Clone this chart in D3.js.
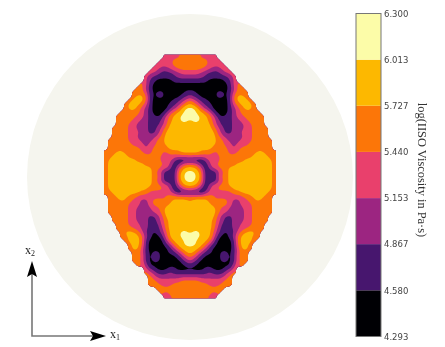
<!DOCTYPE html>
<html>
<head>
<meta charset="utf-8">
<script src="https://cdn.jsdelivr.net/npm/d3@7"></script>
<style>
html, body { margin: 0; padding: 0; background: #fff; }
svg { display: block; filter: blur(0.35px); }
</style>
</head>
<body>
<svg id="svg" width="445" height="347"></svg>
<script>
// colour band edges
var levels = [4.293, 4.58, 4.867, 5.153, 5.44, 5.727, 6.013, 6.3];
var bandColors = ["#000004", "#47166e", "#9c2581", "#e9406c", "#fc7608", "#fdb800", "#fcfca8"];

// band index per cell, right half of the field only (left half is mirrored)
// first string = top row, centre row in the middle. string length = field width on that row
var fieldRows = [
    "4443333",
    "44444333",
    "444443333",
    "4444332233",
    "33322111233",
    "222211111123",
    "111110000113",
    "0000000000134",
    "00000000001244",
    "110000011013444",
    "211000011014554",
    "4321100000145554",
    "54321100001345554",
    "66532100001234554",
    "665543100012344444",
    "6665543101123344444",
    "5665543211122334444",
    "5555553211122233444",
    "55555543211222334444",
    "55555553211223334444",
    "55555554322222334444",
    "555555544322233344444",
    "555555544332333444444",
    "555555434432344444444",
    "5554443444334444455444",
    "3333333344444444555544",
    "0000233344444455555554",
    "4431033444445555555554",
    "5543023344555555555554",
    "6654010234555555555554",
    "6654020344555555555554",
    "6654010234555555555554",
    "5543023344555555555554",
    "4431033444455555555554",
    "0000233333344555555544",
    "444444433333334455544",
    "455554344432233445444",
    "555555444432233344444",
    "555555543322223344444",
    "555555543322223344444",
    "55555553211222334444",
    "55555543211222334444",
    "5555554311122333444",
    "5555554211122334444",
    "566555321011345554",
    "666555310012455544",
    "66555420000145554",
    "6655421000014554",
    "5554210000013554",
    "553211001101344",
    "432100001101444",
    "321000001101344",
    "11000000000244",
    "000011000113",
    "111112111234",
    "22222222234",
    "44433333344",
    "44444333444",
    "443444444",
    "44444434",
    "4444433"
];

var halfCols = 22;
var nCols = 2 * halfCols - 1;
var nRows = fieldRows.length;
var fine = 3;   // contour grid cells per data cell

var svg = d3.select("#svg");

// background disc
svg.append("circle")
    .attr("cx", 190).attr("cy", 177).attr("r", 163)
    .attr("fill", "#f5f5ee");

// build the full grid from the half rows
var bandMid = bandColors.map(function(c, i) { return (levels[i] + levels[i + 1]) / 2; });
var gw = nCols * fine, gh = nRows * fine;
var values = new Float64Array(gw * gh), mask = new Float64Array(gw * gh);
d3.range(gh).forEach(function(j) {
    var row = fieldRows[Math.floor(j / fine)];
    d3.range(gw).forEach(function(i) {
        var c = Math.abs(Math.floor(i / fine) - (halfCols - 1));
        var ch = c < row.length ? row[c] : row[row.length - 1];
        values[j * gw + i] = bandMid[+ch];
        mask[j * gw + i] = c < row.length ? 1 : 0;
    });
});

// round off the stair steps of the hand read cells
d3.blur2({data: values, width: gw, height: gh}, 1.4);
d3.blur2({data: mask, width: gw, height: gh}, 1);

var xScale = d3.scaleLinear().domain([0, gw]).range([104, 276]);
var yScale = d3.scaleLinear().domain([0, gh]).range([54.5, 298.5]);

var path = d3.geoPath(d3.geoTransform({
    point: function(x, y) { this.stream.point(xScale(x), yScale(y)); }
}));

// outline of the field
var outline = d3.contours().size([gw, gh]).thresholds([0.5])(mask)[0];
svg.append("clipPath").attr("id", "fieldClip")
    .append("path").attr("d", path(outline));

var field = svg.append("g").attr("clip-path", "url(#fieldClip)");

field.append("rect")
    .attr("x", xScale(0)).attr("y", yScale(0))
    .attr("width", xScale(gw) - xScale(0))
    .attr("height", yScale(gh) - yScale(0))
    .attr("fill", bandColors[0]);

var bands = d3.contours().size([gw, gh]).thresholds(levels.slice(1, -1))(values);
field.selectAll("path.band")
    .data(bands)
    .enter()
    .append("path")
    .attr("class", "band")
    .attr("d", path)
    .attr("fill", function(d, i) { return bandColors[i + 1]; });

// colorbar
var barScale = d3.scaleLinear().domain([levels[0], levels[7]]).range([336.5, 13.5]);
var barX = 356, barW = 25;

svg.selectAll("rect.swatch")
    .data(bandColors)
    .enter()
    .append("rect")
    .attr("class", "swatch")
    .attr("x", barX)
    .attr("width", barW)
    .attr("y", function(d, i) { return barScale(levels[i + 1]); })
    .attr("height", function(d, i) { return barScale(levels[i]) - barScale(levels[i + 1]); })
    .attr("fill", function(d) { return d; });

svg.append("rect")
    .attr("x", barX).attr("y", barScale(levels[7]))
    .attr("width", barW).attr("height", barScale(levels[0]) - barScale(levels[7]))
    .attr("fill", "none").attr("stroke", "#777").attr("stroke-width", 1);

var barAxis = svg.append("g")
    .attr("transform", "translate(" + (barX + barW) + ",0)")
    .call(d3.axisRight(barScale).tickValues(levels).tickFormat(d3.format(".3f")).tickSize(0).tickPadding(3));
barAxis.select(".domain").remove();
barAxis.selectAll("text")
    .attr("font-family", "DejaVu Sans")
    .attr("font-size", 8.5)
    .attr("fill", "#444");

svg.append("text")
    .attr("transform", "translate(418,170) rotate(90)")
    .attr("text-anchor", "middle")
    .attr("font-family", "Liberation Serif")
    .attr("font-size", 12.4)
    .attr("fill", "#333")
    .text("log(IISO Viscosity in Pa\u00b7s)");

// x1 / x2 direction arrows
svg.append("path")
    .attr("d", "M32,272V336H100")
    .attr("fill", "none").attr("stroke", "#777").attr("stroke-width", 1.6);
svg.append("path")
    .attr("d", "M32,261L37,277L32,274L27,277Z")
    .attr("fill", "#000");
svg.append("path")
    .attr("d", "M106,336L90,331L93,336L90,341Z")
    .attr("fill", "#000");

function axisLabel(x, y, sub) {
    var t = svg.append("text")
        .attr("x", x).attr("y", y)
        .attr("font-family", "Liberation Serif")
        .attr("font-size", 12)
        .attr("fill", "#222")
        .text("x");
    t.append("tspan").attr("font-size", 8).attr("dy", 2).text(sub);
}
axisLabel(110, 338, "1");
axisLabel(25, 254, "2");
</script>
</body>
</html>
